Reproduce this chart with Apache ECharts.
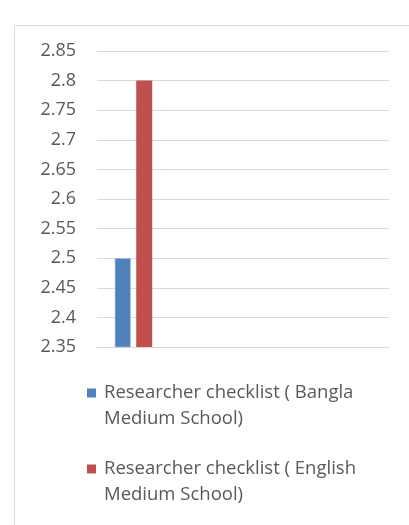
<!DOCTYPE html>
<html>
<head>
<meta charset="utf-8">
<script src="https://cdn.jsdelivr.net/npm/echarts@6/dist/echarts.min.js"></script>
<style>
html, body { margin: 0; padding: 0; background: #fff; }
#chart { width: 409px; height: 525px; }
</style>
</head>
<body>
<div id="chart"></div>
<script>
// one group of bars, the other slots on the axis are empty
var categories = ['', '', '', ''];
var banglaValues = [2.5];
var englishValues = [2.8];
var seriesNames = [
	'Researcher checklist ( Bangla Medium School)',
	'Researcher checklist ( English Medium School)'
];

var myChart = echarts.init(document.getElementById('chart'));

myChart.setOption({
	animation : false,
	textStyle : { fontFamily : 'Open Sans' },
	graphic : [ {
		type : 'rect',
		shape : { x : 14.5, y : 25.5, width : 420, height : 520 },
		style : { fill : 'none', stroke : '#d9d9d9', lineWidth : 1 }
	} ],
	grid : { left : 97, right : 20, top : 51, height : 296 },
	legend : {
		orient : 'vertical',
		left : 87,
		top : 354,
		padding : 0,
		itemWidth : 9,
		itemHeight : 9,
		itemGap : -2,
		icon : 'rect',
		data : seriesNames,
		itemStyle : { borderWidth : 0 },
		// blank first line so the icon sits beside the first text line
		formatter : function (name) {
			return '\n' + name.replace(' Medium', '\nMedium');
		},
		textStyle : {
			color : '#595959',
			fontSize : 18.5,
			lineHeight : 26,
			padding : [0, 0, 0, 3]
		}
	},
	xAxis : [ {
		type : 'category',
		data : categories,
		axisLine : { show : true, lineStyle : { color : '#d9d9d9' } },
		axisTick : { show : false },
		axisLabel : { show : false }
	} ],
	yAxis : [ {
		type : 'value',
		min : 2.35,
		max : 2.85,
		interval : 0.05,
		axisLine : { show : false },
		axisTick : { show : false },
		splitLine : { lineStyle : { color : '#d9d9d9' } },
		axisLabel : {
			color : '#595959',
			fontSize : 18,
			margin : 21,
			formatter : function (v) { return String(parseFloat(v.toFixed(2))); }
		}
	} ],
	series : [ {
		name : seriesNames[0],
		type : 'bar',
		data : banglaValues,
		barWidth : 16,
		barGap : '34%',
		itemStyle : { color : '#4f81bd', borderColor : '#a9c3e6', borderWidth : 0.6 }
	}, {
		name : seriesNames[1],
		type : 'bar',
		data : englishValues,
		barWidth : 16,
		itemStyle : { color : '#c0504d' }
	} ]
});
</script>
</body>
</html>
